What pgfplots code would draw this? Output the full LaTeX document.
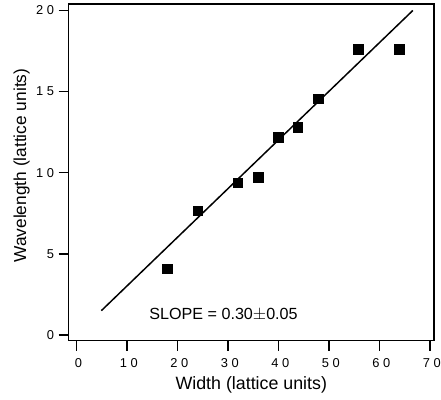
\documentclass[border=0pt]{standalone}
\usepackage{pgfplots}
\pgfplotsset{compat=1.18}
\usepackage{fontspec}
\setmainfont{Liberation Sans}
\newfontfamily\tickfont[LetterSpace=28]{Liberation Sans}
\begin{document}
\begin{tikzpicture}[x=1bp,y=1bp]
\begin{axis}[
  scale only axis,
  width=368bp, height=339bp,
  xmin=-1.6, xmax=70.8, ymin=-0.35, ymax=20.4,
  xtick={0,10,...,70}, ytick={0,5,...,20},
  tick align=outside, tick pos=left,
  major tick length=10bp,
  axis line style={line width=1.5pt},
  every tick/.style={black, line width=1.3pt},
  /pgf/number format/assume math mode=true,
  every tick label/.append style={font=\tickfont\fontsize{13}{15}\selectfont},
  every x tick label/.append style={yshift=-4bp, xshift=1.8bp},
  every y tick label/.append style={anchor=east, xshift=-1bp},
  xlabel={Width (lattice units)},
  ylabel={Wavelength (lattice units)},
  xlabel style={font=\fontsize{18}{20}\selectfont, at={(axis description cs:0.5,-0.13)}, anchor=center},
  ylabel style={font=\fontsize{17.5}{20}\selectfont, at={(axis description cs:-0.128,0.52)}, anchor=center},
  clip=false,
]
\addplot[only marks, mark=square*, mark size=4.8bp, black] coordinates {
  (17.9,4.1) (24.0,7.66) (31.9,9.4) (36.0,9.72) (39.9,12.18)
  (43.8,12.79) (47.9,14.55) (55.8,17.6) (63.9,17.6)
};
\addplot[black, line width=1.5pt] coordinates {(4.9,1.5) (66.6,20.0)};
\node[font=\fontsize{16.3}{18}\selectfont] at (axis cs:29.1,1.26) {SLOPE = 0.30$\pm$0.05};
\coordinate (ll) at (rel axis cs:0,0);
\coordinate (ur) at (rel axis cs:1,1);
\end{axis}
\pgfresetboundingbox
\useasboundingbox ([shift={(-69bp,-59bp)}]ll) rectangle ([shift={(7bp,4bp)}]ur);
\end{tikzpicture}
\end{document}
